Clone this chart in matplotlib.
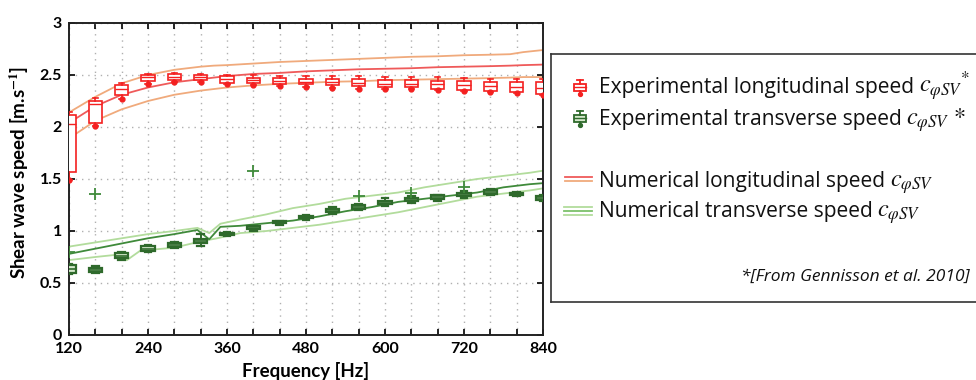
import numpy as np
import matplotlib
matplotlib.use('Agg')
import matplotlib.pyplot as plt
from matplotlib.patches import Rectangle

plt.rcParams['font.family'] = ['Lato', 'DejaVu Sans']
plt.rcParams['mathtext.fontset'] = 'stix'

# experimental boxes (frequency in Hz, speed in m/s)
freq = [120, 160, 200, 240, 280, 320, 360, 400, 440, 480, 520, 560, 600, 640, 680, 720, 760, 800, 840]

long_low = [1.49, 2.01, 2.27, 2.41, 2.43, 2.43, 2.41, 2.40, 2.39, 2.38, 2.375, 2.37, 2.37, 2.37, 2.36, 2.35, 2.34, 2.33, 2.31]
long_q1 = [1.57, 2.04, 2.31, 2.445, 2.455, 2.45, 2.42, 2.42, 2.41, 2.41, 2.40, 2.39, 2.38, 2.38, 2.37, 2.355, 2.345, 2.34, 2.32]
long_med = [2.03, 2.22, 2.37, 2.48, 2.485, 2.48, 2.46, 2.45, 2.44, 2.435, 2.43, 2.425, 2.415, 2.415, 2.41, 2.40, 2.39, 2.385, 2.375]
long_q3 = [2.12, 2.25, 2.40, 2.50, 2.51, 2.50, 2.49, 2.47, 2.47, 2.46, 2.46, 2.46, 2.45, 2.45, 2.44, 2.44, 2.435, 2.43, 2.43]
long_high = [2.14, 2.28, 2.42, 2.51, 2.52, 2.51, 2.50, 2.50, 2.49, 2.49, 2.49, 2.49, 2.48, 2.48, 2.48, 2.47, 2.46, 2.46, 2.46]

trans_low = [0.59, 0.60, 0.72, 0.80, 0.84, 0.86, 0.95, 1.00, 1.06, 1.11, 1.16, 1.20, 1.24, 1.27, 1.29, 1.32, 1.35, 1.34, 1.29]
trans_q1 = [0.60, 0.61, 0.74, 0.81, 0.85, 0.88, 0.965, 1.02, 1.075, 1.125, 1.18, 1.215, 1.26, 1.29, 1.31, 1.34, 1.36, 1.35, 1.30]
trans_med = [0.63, 0.625, 0.76, 0.83, 0.865, 0.90, 0.975, 1.035, 1.085, 1.135, 1.195, 1.23, 1.275, 1.305, 1.33, 1.355, 1.375, 1.36, 1.32]
trans_q3 = [0.67, 0.64, 0.79, 0.855, 0.88, 0.92, 0.985, 1.045, 1.095, 1.145, 1.21, 1.25, 1.29, 1.32, 1.345, 1.37, 1.39, 1.37, 1.34]
trans_high = [0.68, 0.66, 0.80, 0.865, 0.89, 0.97, 0.99, 1.05, 1.10, 1.155, 1.23, 1.26, 1.32, 1.34, 1.35, 1.38, 1.40, 1.375, 1.35]
trans_out = [[0.80], [1.36], [], [], [], [], [], [1.58], [], [], [], [1.34], [], [1.37], [], [1.42], [], [], []]

# numerical curves
num_long_f = [120, 160, 200, 240, 280, 320, 340, 360, 400, 440, 480, 520, 560, 600, 640, 680, 720, 760, 790, 810, 840]
num_long_up = [2.14, 2.29, 2.42, 2.50, 2.55, 2.58, 2.59, 2.595, 2.61, 2.625, 2.635, 2.645, 2.655, 2.665, 2.675, 2.68, 2.69, 2.695, 2.70, 2.72, 2.74]
num_long_mid = [2.04, 2.20, 2.31, 2.38, 2.43, 2.46, 2.475, 2.49, 2.51, 2.52, 2.535, 2.545, 2.555, 2.56, 2.565, 2.575, 2.58, 2.585, 2.59, 2.595, 2.60]
num_long_lo = [1.89, 2.06, 2.17, 2.25, 2.31, 2.35, 2.365, 2.38, 2.40, 2.415, 2.425, 2.435, 2.44, 2.45, 2.455, 2.46, 2.465, 2.47, 2.475, 2.48, 2.48]

num_tr_f = [120, 160, 200, 240, 280, 315, 333, 350, 380, 420, 460, 500, 540, 580, 620, 660, 700, 740, 780, 820, 840]
num_tr_mid = [0.78, 0.83, 0.88, 0.93, 0.97, 1.01, 0.92, 1.04, 1.05, 1.075, 1.10, 1.14, 1.19, 1.23, 1.28, 1.31, 1.34, 1.37, 1.42, 1.45, 1.46]
num_tr_up = [0.85, 0.89, 0.93, 0.97, 1.00, 1.03, 0.98, 1.07, 1.11, 1.16, 1.22, 1.26, 1.31, 1.34, 1.37, 1.42, 1.46, 1.50, 1.53, 1.56, 1.58]
num_tr_lo_f = [120, 160, 190, 208, 228, 280, 320, 345, 380, 420, 460, 500, 540, 580, 620, 660, 700, 740, 780, 820, 840]
num_tr_lo = [0.72, 0.75, 0.77, 0.72, 0.81, 0.84, 0.90, 0.93, 0.98, 1.00, 1.03, 1.06, 1.10, 1.14, 1.18, 1.23, 1.28, 1.33, 1.36, 1.39, 1.41]

legend_rows = ['Experimental longitudinal speed ', 'Experimental transverse speed ',
               'Numerical longitudinal speed ', 'Numerical transverse speed ']
legend_math = [r'$c_{\varphi SV}{}^{*}$', r'$c_{\varphi SV}\ {*}$', r'$c_{\varphi SV}$', r'$c_{\varphi SV}$']

red = '#f42020'
red_line = '#ef5a5a'
orange = '#f0aa7c'
dgreen = '#2f6a2c'
mgreen = '#3f8a3a'
lgreen = '#b2dc9c'

fig = plt.figure(figsize=(9.76, 3.8), dpi=100)
ax = fig.add_axes([69/976, 45/380, 474/976, 312/380])

ax.plot(num_long_f, num_long_up, color=orange, lw=1.3, zorder=2)
ax.plot(num_long_f, num_long_lo, color=orange, lw=1.3, zorder=2)
ax.plot(num_long_f, num_long_mid, color=red_line, lw=1.3, zorder=2)
ax.plot(num_tr_f, num_tr_up, color=lgreen, lw=1.3, zorder=2)
ax.plot(num_tr_lo_f, num_tr_lo, color=lgreen, lw=1.3, zorder=2)
ax.plot(num_tr_f, num_tr_mid, color=mgreen, lw=1.3, zorder=2)

long_stats = [dict(whislo=long_low[i], q1=long_q1[i], med=long_med[i], q3=long_q3[i],
                   whishi=long_high[i], fliers=[long_low[i]]) for i in range(len(freq))]
ax.bxp(long_stats, positions=freq, widths=20, patch_artist=True, manage_ticks=False,
       boxprops=dict(facecolor='white', edgecolor=red, lw=1.2),
       medianprops=dict(color=red, lw=1.0),
       whiskerprops=dict(color=red, lw=1.2), capprops=dict(color=red, lw=1.2),
       flierprops=dict(marker='o', markersize=3.5, markerfacecolor=red, markeredgecolor=red),
       capwidths=8, zorder=3)

trans_stats = [dict(whislo=trans_low[i], q1=trans_q1[i], med=trans_med[i], q3=trans_q3[i],
                    whishi=trans_high[i], fliers=trans_out[i]) for i in range(len(freq))]
ax.bxp(trans_stats, positions=freq, widths=20, patch_artist=True, manage_ticks=False,
       boxprops=dict(facecolor='#d5e8cc', edgecolor=dgreen, lw=1.6),
       medianprops=dict(color=dgreen, lw=1.2),
       whiskerprops=dict(color=dgreen, lw=1.4), capprops=dict(color=dgreen, lw=1.6),
       flierprops=dict(marker='+', markersize=9, markeredgewidth=1.3, markeredgecolor=mgreen),
       capwidths=10, zorder=3)

ax.set_xlim(120, 840)
ax.set_ylim(0, 3)
xt = np.arange(120, 841, 40)
ax.set_xticks(xt)
ax.set_xticklabels([str(v) if v % 120 == 0 else '' for v in xt], fontsize=11.5, fontweight='bold')
ax.set_yticks(np.arange(0, 3.01, 0.5))
ax.set_yticklabels(['0', '0.5', '1', '1.5', '2', '2.5', '3'], fontsize=11.5, fontweight='bold')
ax.tick_params(direction='in', top=True, right=True, length=4, width=1.2, pad=5)
ax.grid(True, color='#b0b0b0', linestyle=(0, (1, 3.5)), lw=1.0)
for s in ax.spines.values():
    s.set_linewidth(1.4)
    s.set_color('#222222')
ax.set_xlabel('Frequency [Hz]', fontsize=13.5, fontweight='bold')
ax.set_ylabel(r'Shear wave speed [m.s$^{\mathbf{-1}}$]', fontsize=13.5, fontweight='bold')
ax.xaxis.set_label_coords(0.5, -0.085)
ax.yaxis.set_label_coords(-0.08, 0.52)

# legend panel (pixel coordinates)
lg = fig.add_axes([551/976, 78/380, 449/976, 248/380])
lg.set_xlim(551, 1000)
lg.set_ylim(302, 54)
lg.set_xticks([])
lg.set_yticks([])
for s in lg.spines.values():
    s.set_linewidth(1.2)
    s.set_color('#333333')


def box_icon(y, edge, face):
    lg.add_patch(Rectangle((574, y - 3.5), 12, 7, facecolor=face, edgecolor=edge, lw=1.3))
    lg.plot([580, 580], [y - 7, y - 3.5], color=edge, lw=1.3)
    lg.plot([577, 583], [y - 7, y - 7], color=edge, lw=1.3)
    lg.plot([574, 586], [y, y], color=edge, lw=1.0)
    lg.plot([580, 580], [y + 3.5, y + 6.5], color=edge, lw=1.3)
    lg.plot([580], [y + 6.5], marker='o', ms=2.8, color=edge)


box_icon(87, red, 'white')
box_icon(118, dgreen, '#d5e8cc')
lg.plot([565, 592], [176.5, 176.5], color=red_line, lw=1.3)
lg.plot([565, 592], [181, 181], color=orange, lw=1.3)
lg.plot([564, 592], [206.5, 206.5], color=lgreen, lw=1.3)
lg.plot([564, 592], [210.5, 210.5], color='#7cc06a', lw=1.3)
lg.plot([564, 592], [215, 215], color=lgreen, lw=1.3)

row_y = [93, 124.5, 186.5, 217]
fig.canvas.draw()
renderer = fig.canvas.get_renderer()
inv = lg.transData.inverted()
for label, math, y in zip(legend_rows, legend_math, row_y):
    t = lg.text(599, y, label, fontsize=15.1, family=['Open Sans', 'DejaVu Sans'],
                va='baseline', color='#111111')
    bb = t.get_window_extent(renderer)
    x_end = inv.transform((bb.x1, bb.y0))[0]
    lg.text(x_end - 1, y, math, fontsize=17.5, va='baseline', color='#111111')
lg.text(970, 281, '*[From Gennisson et al. 2010]', fontsize=12.5, family=['Open Sans', 'DejaVu Sans'],
        style='italic', ha='right', va='baseline', color='#111111')

plt.savefig('out.png', dpi=100)
